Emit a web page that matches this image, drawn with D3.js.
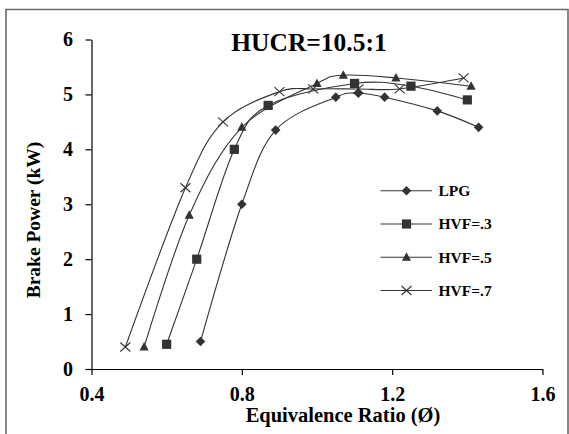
<!DOCTYPE html>
<html><head><meta charset="utf-8">
<script src="https://cdn.jsdelivr.net/npm/d3@7/dist/d3.min.js"></script>
<style>
html,body{margin:0;padding:0;background:#fff;}
svg{display:block;}
</style></head>
<body>
<svg id="chart" width="569" height="434"></svg>
<script>
const title = "HUCR=10.5:1";
const xLabel = "Equivalence Ratio (Ø)";
const yLabel = "Brake Power (kW)";
const xTicks = [0.4, 0.8, 1.2, 1.6];
const yTicks = [0, 1, 2, 3, 4, 5, 6];
const seriesNames = ["LPG", "HVF=.3", "HVF=.5", "HVF=.7"];
const seriesSymbols = ["diamond", "square", "triangle", "cross"];

const lpgX = [0.69, 0.80, 0.89, 1.05, 1.11, 1.18, 1.32, 1.43];
const lpgY = [0.5, 3.0, 4.35, 4.95, 5.02, 4.95, 4.7, 4.4];
const hvf3X = [0.60, 0.68, 0.78, 0.87, 1.10, 1.25, 1.40];
const hvf3Y = [0.45, 2.0, 4.0, 4.8, 5.2, 5.15, 4.9];
const hvf5X = [0.54, 0.66, 0.80, 1.00, 1.07, 1.21, 1.41];
const hvf5Y = [0.4, 2.8, 4.4, 5.2, 5.35, 5.3, 5.15];
const hvf7X = [0.49, 0.65, 0.75, 0.90, 0.99, 1.11, 1.22, 1.39];
const hvf7Y = [0.4, 3.3, 4.5, 5.05, 5.1, 5.1, 5.1, 5.3];

const seriesX = [lpgX, hvf3X, hvf5X, hvf7X];
const seriesY = [lpgY, hvf3Y, hvf5Y, hvf7Y];

const svg = d3.select("#chart");
const FONT = "'Liberation Serif','Times New Roman',serif";
const ink = "#333";

// frame
svg.append("path")
  .attr("d", "M6,434 L6,9.5 L568,9.5 L568,434")
  .attr("fill", "none").attr("stroke", "#6a6a6a").attr("stroke-width", 1.6);

const x = d3.scaleLinear().domain([0.4, 1.6]).range([91.5, 542.5]);
const y = d3.scaleLinear().domain([0, 6]).range([369, 39.5]);

const gx = svg.append("g").attr("transform", `translate(0,${y(0)})`)
  .call(d3.axisBottom(x).tickValues(xTicks).tickFormat(d3.format(".1f"))
    .tickSize(6).tickSizeOuter(0).tickPadding(12));
const gy = svg.append("g").attr("transform", `translate(${x(0.4)},0)`)
  .call(d3.axisLeft(y).tickValues(yTicks).tickFormat(d3.format("d"))
    .tickSize(6).tickSizeOuter(0).tickPadding(12.5));
[gx, gy].forEach(g => {
  g.select(".domain").attr("stroke", "#000").attr("stroke-width", 1.2);
  g.selectAll(".tick line").attr("stroke", "#000").attr("stroke-width", 1.2);
  g.selectAll(".tick text").attr("font-family", FONT).attr("font-weight", "bold")
    .attr("font-size", 20).attr("fill", "#000");
});

const line = d3.line().x(d => x(d[0])).y(d => y(d[1])).curve(d3.curveCardinal.tension(0));

function marker(g, sym, cx, cy) {
  if (sym === "diamond") {
    g.append("path").attr("d", `M${cx},${cy-4.8}L${cx+4.8},${cy}L${cx},${cy+4.8}L${cx-4.8},${cy}Z`).attr("fill", ink);
  } else if (sym === "square") {
    g.append("rect").attr("x", cx-4.6).attr("y", cy-4.6).attr("width", 9.2).attr("height", 9.2).attr("fill", ink);
  } else if (sym === "triangle") {
    g.append("path").attr("d", `M${cx},${cy-5}L${cx+4.6},${cy+3.5}L${cx-4.6},${cy+3.5}Z`).attr("fill", ink);
  } else {
    g.append("path").attr("d", `M${cx-5},${cy-4.5}L${cx+5},${cy+4.5}M${cx-5},${cy+4.5}L${cx+5},${cy-4.5}`)
      .attr("stroke", ink).attr("stroke-width", 1.1).attr("fill", "none");
  }
}

seriesNames.forEach((name, i) => {
  const pts = seriesX[i].map((v, j) => [v, seriesY[i][j]]);
  const g = svg.append("g");
  g.append("path").attr("d", line(pts)).attr("fill", "none").attr("stroke", ink).attr("stroke-width", 1.1);
  pts.forEach(p => marker(g, seriesSymbols[i], x(p[0]), y(p[1])));
});

// legend
const legY = [190.7, 224, 257.3, 290.5];
seriesNames.forEach((name, i) => {
  const g = svg.append("g");
  g.append("line").attr("x1", 380.5).attr("x2", 432).attr("y1", legY[i]).attr("y2", legY[i])
    .attr("stroke", ink).attr("stroke-width", 1.1);
  marker(g, seriesSymbols[i], 406.5, legY[i]);
  g.append("text").attr("x", 438.5).attr("y", legY[i]).attr("dy", "0.35em")
    .attr("font-family", FONT).attr("font-weight", "bold").attr("font-size", 15.5)
    .attr("fill", "#000").text(name);
});

// title
svg.append("text").attr("x", 309).attr("y", 50.5).attr("text-anchor", "middle")
  .attr("font-family", FONT).attr("font-weight", "bold").attr("font-size", 25.5)
  .attr("fill", "#000").text(title);

// axis titles
svg.append("text").attr("x", 343).attr("y", 422).attr("text-anchor", "middle")
  .attr("font-family", FONT).attr("font-weight", "bold").attr("font-size", 20.5)
  .attr("fill", "#000").text(xLabel);
svg.append("text").attr("transform", "translate(40,220) rotate(-90)").attr("text-anchor", "middle")
  .attr("font-family", FONT).attr("font-weight", "bold").attr("font-size", 19.5)
  .attr("fill", "#000").text(yLabel);
</script>
</body></html>
